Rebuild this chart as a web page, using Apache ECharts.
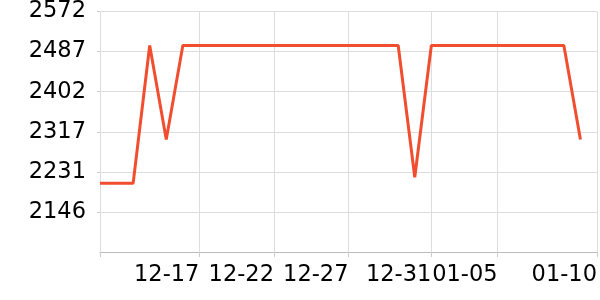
<!DOCTYPE html>
<html>
<head>
<meta charset="utf-8">
<script src="https://cdn.jsdelivr.net/npm/echarts@6/dist/echarts.min.js"></script>
<style>
  html, body { margin: 0; padding: 0; background: #fff; }
  #chart { width: 600px; height: 300px; }
</style>
</head>
<body>
<div id="chart"></div>
<script>
// Reading slots (date + time); not every slot holds a reading
const categories = [
  '12-11 00:00', '12-11 12:00', '12-12 00:00', '12-12 12:00', '12-13 00:00', '12-13 12:00',
  '12-14 00:00', '12-14 12:00', '12-15 00:00', '12-15 12:00', '12-16 00:00', '12-16 12:00',
  '12-17 00:00', '12-17 12:00', '12-18 00:00', '12-18 12:00', '12-19 00:00', '12-19 12:00',
  '12-20 00:00', '12-20 12:00', '12-21 00:00', '12-22 00:00', '12-22 12:00', '12-23 00:00',
  '12-23 12:00', '12-24 00:00', '12-24 12:00', '12-25 00:00', '12-25 12:00', '12-26 00:00',
  '12-27 00:00', '12-27 08:00', '12-27 16:00', '12-28 00:00', '12-28 08:00', '12-28 16:00',
  '12-29 00:00', '12-29 12:00', '12-30 00:00', '12-30 12:00', '12-31 00:00', '12-31 12:00',
  '01-01 00:00', '01-01 12:00', '01-02 00:00', '01-02 12:00', '01-03 00:00', '01-04 00:00',
  '01-05 00:00', '01-05 12:00', '01-06 00:00', '01-06 12:00', '01-07 00:00', '01-07 08:00',
  '01-07 16:00', '01-08 00:00', '01-08 08:00', '01-08 16:00', '01-09 00:00', '01-09 12:00',
  '01-10 00:00'
];
// Values (null = no reading in that slot)
const values = [
  2207, null, 2207, null, 2207, null,
  2500, null, 2300, null, 2500, null,
  2500, null, 2500, null, 2500, null,
  2500, null, 2500, null, 2500, null,
  2500, null, 2500, null, 2500, null,
  2500, null, 2500, null, 2500, null,
  2500, null, 2220, null, 2500, null,
  2500, null, 2500, null, 2500, null,
  2500, null, 2500, null, 2500, null,
  2500, null, 2500, null, 2300, null,
  null
];
// Labelled ticks on the x axis
const tickLabels = ['12-17', '12-22', '12-27', '12-31', '01-05', '01-10'];
// Y axis range
const yMin = 2061;
const yMax = 2572.2;
const yStep = 85.2;

const chart = echarts.init(document.getElementById('chart'), null, { renderer: 'canvas' });
const day = s => s.slice(0, 5);
const firstOfDay = idx => idx === 0 || day(categories[idx - 1]) !== day(categories[idx]);
const isLabelled = (idx, val) => tickLabels.indexOf(day(val)) >= 0 && firstOfDay(idx);
const isTicked = (idx, val) => idx === 0 || isLabelled(idx, val);

chart.setOption({
  animation: false,
  grid: { left: 100, right: 0, top: 10, bottom: 48, containLabel: false },
  xAxis: {
    type: 'category',
    data: categories,
    boundaryGap: false,
    axisLine: { show: true, lineStyle: { color: '#bbbbbb', width: 1 } },
    axisTick: { show: true, length: 5, interval: isTicked, lineStyle: { color: '#cccccc' } },
    splitLine: { show: true, interval: isTicked, lineStyle: { color: '#dddddd', width: 1 } },
    axisLabel: {
      interval: isLabelled,
      align: 'right',
      margin: 12,
      color: '#000',
      fontFamily: 'DejaVu Sans',
      fontSize: 22.5,
      formatter: v => day(v)
    }
  },
  yAxis: {
    type: 'value',
    min: yMin,
    max: yMax,
    interval: yStep,
    axisLine: { show: false },
    axisTick: { show: true, length: 3, lineStyle: { color: '#cccccc' } },
    splitLine: { show: true, lineStyle: { color: '#dddddd', width: 1 } },
    axisLabel: {
      showMinLabel: false,
      margin: 14,
      color: '#000',
      fontFamily: 'DejaVu Sans',
      fontSize: 22.5,
      formatter: v => String(Math.round(v))
    }
  },
  series: [{
    type: 'line',
    data: values,
    connectNulls: true,
    symbol: 'none',
    lineStyle: { color: '#f04e2f', width: 3 },
    itemStyle: { color: '#f04e2f' }
  }]
});
</script>
</body>
</html>
